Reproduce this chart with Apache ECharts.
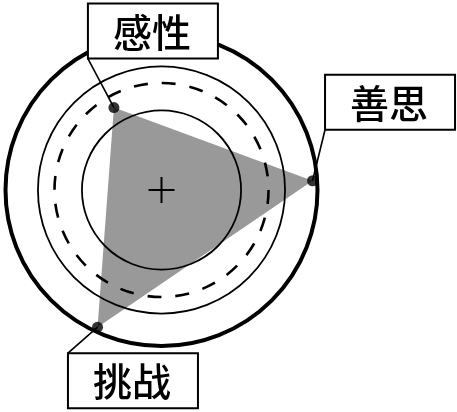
<!DOCTYPE html>
<html><head><meta charset="utf-8">
<script src="https://cdn.jsdelivr.net/npm/echarts@6/dist/echarts.min.js"></script>
<style>html,body{margin:0;padding:0;background:#fff}#c{width:457px;height:412px}</style>
</head><body><div id="c"></div>
<script>
// ---- data ----
const categories = ['感性', '善思', '挑战'];
const values = [61, 97, 97];          // radius value (outer ring = 100)
const angles = [120, 3.5, 245];       // direction of each dimension, degrees ccw from 3 o'clock
const ringLevels = [51, 68.6, 79.2, 100]; // inner, dashed, middle, outer rings
const ringStyles = ['thin', 'dashed', 'thin', 'thick'];

// ---- layout / style (not data) ----
const CENTER = [161.5, 190];
const R = 156;
const BOX_W = 130, BOX_H = 55;
const labelBoxes = [
  { dx: -26, dy: -104, corner: 'bl' },
  { dx: 12.5, dy: -106, corner: 'bl' },
  { dx: -29.6, dy: 26, corner: 'tl' }
];
const lineStyleOf = {
  thin: { color: '#000', width: 1.8, type: 'solid' },
  dashed: { color: '#000', width: 2.6, type: [14, 14] },
  thick: { color: '#000', width: 4, type: 'solid' }
};

const polar = [], angleAxis = [], radiusAxis = [];
ringLevels.slice().reverse().forEach((lvl, k) => {
  const i = ringLevels.length - 1 - k;
  polar.push({ center: CENTER, radius: R * lvl / 100 });
  angleAxis.push({
    polarIndex: k, type: 'value', min: 0, max: 360, startAngle: 0, clockwise: false, z: 5,
    axisLine: { show: true, lineStyle: lineStyleOf[ringStyles[i]] },
    axisTick: { show: false }, axisLabel: { show: false }, splitLine: { show: false }
  });
  radiusAxis.push({ polarIndex: k, type: 'value', min: 0, max: lvl, show: false,
    axisLine: { show: false }, axisTick: { show: false }, axisLabel: { show: false }, splitLine: { show: false } });
});

const pts = categories.map((c, i) => [values[i], angles[i], i]);

const option = {
  animation: false,
  backgroundColor: '#fff',
  polar, angleAxis, radiusAxis,
  series: [
    {
      type: 'custom', coordinateSystem: 'polar', polarIndex: 0, z: 1, silent: true,
      data: [[0, 0]],
      renderItem(params, api) {
        const points = values.map((v, i) => api.coord([v, angles[i]]));
        return { type: 'polygon', shape: { points }, style: { fill: '#999999', stroke: null } };
      }
    },
    {
      type: 'custom', coordinateSystem: 'polar', polarIndex: 0, z: 10, silent: true,
      data: [[0, 0]],
      renderItem(params, api) {
        const c = api.coord([0, 0]);
        const h = 13;
        const st = { stroke: '#000', lineWidth: 2 };
        return { type: 'group', children: [
          { type: 'line', shape: { x1: c[0] - h, y1: c[1], x2: c[0] + h, y2: c[1] }, style: st },
          { type: 'line', shape: { x1: c[0], y1: c[1] - h, x2: c[0], y2: c[1] + h }, style: st }
        ]};
      }
    },
    {
      type: 'custom', coordinateSystem: 'polar', polarIndex: 0, z: 20, silent: true,
      data: pts,
      renderItem(params, api) {
        const idx = api.value(2);
        const p = api.coord([api.value(0), api.value(1)]);
        const b = labelBoxes[idx];
        const x = p[0] + b.dx, y = p[1] + b.dy;
        const end = b.corner === 'bl' ? [x, y + BOX_H] : [x, y];
        return { type: 'group', children: [
          { type: 'line', shape: { x1: p[0], y1: p[1], x2: end[0], y2: end[1] }, style: { stroke: '#000', lineWidth: 1.6 } },
          { type: 'rect', shape: { x: x, y: y, width: BOX_W, height: BOX_H }, style: { fill: '#fff', stroke: '#000', lineWidth: 2 } },
          { type: 'text', style: { text: categories[idx], x: x + BOX_W / 2 - 1, y: y + BOX_H / 2 + 1,
              align: 'center', verticalAlign: 'middle', fill: '#000',
              fontSize: 39, fontWeight: 500, fontFamily: '"Noto Sans CJK SC", "Noto Sans CJK JP", sans-serif' } }
        ]};
      }
    },
    {
      type: 'scatter', coordinateSystem: 'polar', polarIndex: 0, z: 25, silent: true,
      symbol: 'circle', symbolSize: 11,
      itemStyle: { color: '#000' },
      data: pts.map(p => [p[0], p[1]])
    }
  ]
};
const chart = echarts.init(document.getElementById('c'), null, { renderer: 'canvas' });
chart.setOption(option);
</script>
</body></html>
